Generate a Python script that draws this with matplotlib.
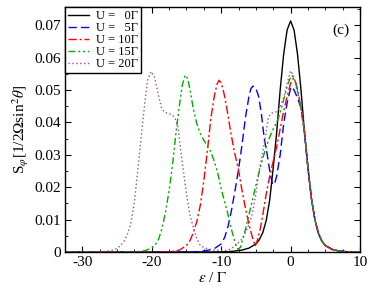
import matplotlib
matplotlib.use('Agg')
import matplotlib.pyplot as plt
from matplotlib.ticker import MultipleLocator, FixedLocator, FixedFormatter

# ── Data ──────────────────────────────────────────────────────
eps_u0 = [-32.5, -12, -10, -9, -8, -7, -6, -5, -4.5, -4, -3.5, -3, -2.5, -2,
          -1.5, -1, -0.5, 0, 0.5, 1, 1.5, 2, 2.5, 3, 3.5, 4, 4.5, 5, 6, 7, 8, 10]
s_u0 = [0, 0, 0.00005, 0.0001, 0.0003, 0.0006, 0.0012, 0.0025, 0.0038, 0.006,
        0.0098, 0.0162, 0.026, 0.037, 0.050, 0.061, 0.0685, 0.0713, 0.0685,
        0.061, 0.050, 0.037, 0.026, 0.0165, 0.010, 0.0058, 0.0034, 0.002,
        0.0008, 0.0003, 0.0001, 0]

eps_u5 = [-32.5, -14, -13, -12, -11, -10, -9.5, -9, -8.5, -8, -7.5, -7, -6.5, -6,
          -5.7, -5.4, -5, -4.6, -4.2, -3.8, -3.4, -3, -2.6, -2.3, -2, -1.5, -1,
          -0.5, 0, 0.2, 0.5, 1, 1.5, 2, 2.5, 3, 3.5, 4, 4.5, 5, 6, 7, 8, 10]
s_u5 = [0, 0, 0.0002, 0.0005, 0.001, 0.0025, 0.0045, 0.008, 0.013, 0.019,
        0.0255, 0.033, 0.0415, 0.048, 0.0505, 0.0512, 0.0505, 0.048, 0.0425,
        0.035, 0.0305, 0.025, 0.0208, 0.021, 0.0235, 0.030, 0.0395, 0.046,
        0.0505, 0.051, 0.050, 0.0475, 0.0445, 0.037, 0.026, 0.0165, 0.010,
        0.0058, 0.0034, 0.002, 0.0008, 0.0003, 0.0001, 0]

eps_u10 = [-32.5, -18, -17, -16, -15, -14.5, -14, -13.5, -13, -12.5, -12, -11.5,
           -11, -10.6, -10.3, -10, -9.6, -9.2, -8.7, -8.2, -7.5, -7, -6.5, -6,
           -5.5, -5.1, -4.8, -4.4, -4, -3.5, -3, -2.5, -2, -1.5, -1, -0.5, 0,
           0.4, 0.8, 1.2, 1.6, 2, 2.5, 3, 3.5, 4, 4.5, 5, 6, 7, 8, 10]
s_u10 = [0, 0, 0.0002, 0.0006, 0.002, 0.0035, 0.006, 0.0095, 0.0145, 0.022,
         0.031, 0.041, 0.048, 0.0518, 0.053, 0.0522, 0.049, 0.0445, 0.038,
         0.032, 0.0253, 0.019, 0.0135, 0.0085, 0.0045, 0.0018, 0.0035, 0.0068,
         0.0115, 0.018, 0.0235, 0.028, 0.0325, 0.038, 0.0435, 0.048, 0.052,
         0.0536, 0.052, 0.048, 0.043, 0.037, 0.026, 0.0165, 0.010, 0.0058,
         0.0034, 0.002, 0.0008, 0.0003, 0.0001, 0]

eps_u15 = [-32.5, -23, -22, -21, -20, -19.5, -19, -18.5, -18, -17.5, -17, -16.5,
           -16, -15.6, -15.2, -14.8, -14.4, -14, -13.5, -13, -12.5, -12, -11.5,
           -11, -10.5, -10, -9.5, -9, -8.5, -8, -7.6, -7.2, -6.5, -6, -5.5, -5,
           -4.5, -4, -3.5, -3, -2.5, -2, -1.5, -1, -0.5, 0, 0.2, 0.6, 1, 1.5,
           2, 2.5, 3, 3.5, 4, 4.5, 5, 6, 7, 8, 10]
s_u15 = [0, 0, 0.0001, 0.0004, 0.0012, 0.0022, 0.004, 0.0075, 0.0125, 0.019,
         0.027, 0.037, 0.0455, 0.0515, 0.0546, 0.0535, 0.049, 0.044, 0.0395,
         0.0365, 0.0345, 0.0328, 0.031, 0.028, 0.0245, 0.0195, 0.0155, 0.0115,
         0.0068, 0.003, 0.0008, 0.0015, 0.007, 0.0115, 0.016, 0.0205, 0.025,
         0.029, 0.0325, 0.0355, 0.038, 0.040, 0.043, 0.047, 0.051, 0.054,
         0.0545, 0.053, 0.050, 0.0445, 0.037, 0.026, 0.0165, 0.010, 0.0058,
         0.0034, 0.002, 0.0008, 0.0003, 0.0001, 0]

eps_u20 = [-32.5, -28, -27, -26, -25, -24.5, -24, -23.5, -23, -22.5, -22, -21.5,
           -21, -20.6, -20.1, -19.6, -19.1, -18.6, -18.2, -17.6, -17, -16.6,
           -16.2, -15.9, -15.5, -15, -14.5, -14, -13.5, -13, -12.5, -12, -11,
           -10, -9, -8, -7, -6.5, -6, -5.5, -5, -4.5, -4, -3.6, -3.2, -2.8,
           -2.4, -2, -1.5, -1, -0.5, 0, 0.4, 0.8, 1.2, 1.6, 2, 2.5, 3, 3.5, 4,
           4.5, 5, 6, 7, 8, 10]
s_u20 = [0, 0, 0.0001, 0.0004, 0.0011, 0.002, 0.0033, 0.0055, 0.009, 0.0155,
         0.0255, 0.036, 0.046, 0.053, 0.0557, 0.054, 0.049, 0.0445, 0.0432,
         0.0427, 0.0423, 0.041, 0.0385, 0.0325, 0.026, 0.018, 0.0115, 0.0075,
         0.004, 0.002, 0.0014, 0.001, 0.0006, 0.0004, 0.0006, 0.0018, 0.004,
         0.006, 0.0085, 0.012, 0.018, 0.0255, 0.031, 0.036, 0.0415, 0.0428,
         0.043, 0.0433, 0.045, 0.0475, 0.052, 0.0559, 0.0545, 0.051, 0.0475,
         0.043, 0.037, 0.026, 0.0165, 0.010, 0.0058, 0.0034, 0.002, 0.0008,
         0.0003, 0.0001, 0]

labels = ['U =   0\u0393', 'U =   5\u0393', 'U = 10\u0393',
          'U = 15\u0393', 'U = 20\u0393']

y_ticks = [0, 0.01, 0.02, 0.03, 0.04, 0.05, 0.06, 0.07]
y_ticklabels = ['0', '0.01', '0.02', '0.03', '0.04', '0.05', '0.06', '0.07']
x_ticks = [-30, -20, -10, 0, 10]
x_ticklabels = ['-30', '-20', '-10', '0', '10']

# ── Style ─────────────────────────────────────────────────────
plt.rcParams.update({
    'font.family'       : 'Liberation Serif',
    'mathtext.fontset'  : 'stix',
    'axes.unicode_minus': False,
    'axes.linewidth'    : 1.0,
    'xtick.direction'   : 'in',
    'ytick.direction'   : 'in',
    'xtick.top'         : True,
    'ytick.right'       : True,
    'xtick.major.size'  : 4,
    'ytick.major.size'  : 4,
    'xtick.minor.size'  : 2.2,
    'ytick.minor.size'  : 2.2,
})

fig = plt.figure(figsize=(3.74, 2.89), dpi=100)
ax = fig.add_axes([65/374, 1 - 252/289, 295/374, 245/289])

# ── Curves ────────────────────────────────────────────────────
ax.plot(eps_u0, s_u0, color='black', lw=1.0, label=labels[0])
ax.plot(eps_u5, s_u5, color='#0000ff', lw=1.0, dashes=(6, 3), label=labels[1])
ax.plot(eps_u10, s_u10, color='#ff0000', lw=1.0, dashes=(6, 2, 1.5, 2),
        label=labels[2])
ax.plot(eps_u15, s_u15, color='#00aa00', lw=1.0,
        dashes=(5, 2, 1.5, 2, 1.5, 2), label=labels[3])
ax.plot(eps_u20, s_u20, color='#9b4f96', lw=1.0, dashes=(1, 1.8),
        label=labels[4])

# ── Axes ──────────────────────────────────────────────────────
ax.set_xlim(-32.5, 10)
ax.set_ylim(0, 0.0756)
ax.xaxis.set_major_locator(FixedLocator(x_ticks))
ax.xaxis.set_major_formatter(FixedFormatter(x_ticklabels))
ax.xaxis.set_minor_locator(MultipleLocator(2.5))
ax.yaxis.set_major_locator(FixedLocator(y_ticks))
ax.yaxis.set_major_formatter(FixedFormatter(y_ticklabels))
ax.yaxis.set_minor_locator(MultipleLocator(0.005))
ax.tick_params(labelsize=11, pad=3)

ax.set_xlabel(r'$\epsilon$ / $\Gamma$', fontsize=11, labelpad=1)
ax.set_ylabel(r'S$_\varphi$[1/2$\Omega$sin$^2\theta$]', fontsize=11,
              labelpad=2)

ax.text(0.935, 0.905, '(c)', transform=ax.transAxes, fontsize=11,
        ha='center', va='center')

leg = ax.legend(loc='upper left', fontsize=9, borderaxespad=0,
                fancybox=False, framealpha=1, edgecolor='black',
                handlelength=1.7, handletextpad=0.55, labelspacing=0.0,
                borderpad=0.25)
leg.get_frame().set_linewidth(1.0)

fig.savefig('out.png', dpi=100)
plt.close(fig)
